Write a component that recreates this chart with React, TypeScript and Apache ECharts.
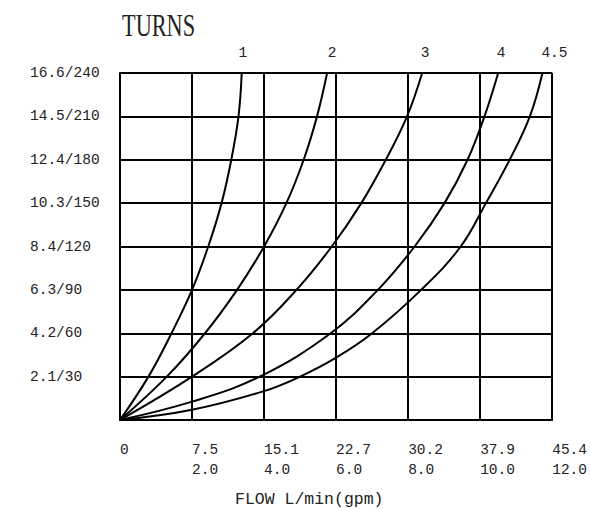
import React, { useEffect, useRef } from "react";
import * as echarts from "echarts";

// Tick labels
const lpmTicks = ["0", "7.5", "15.1", "22.7", "30.2", "37.9", "45.4"];
const gpmTicks = ["", "2.0", "4.0", "6.0", "8.0", "10.0", "12.0"];
const barTicks = ["", "2.1", "4.2", "6.3", "8.4", "10.3", "12.4", "14.5", "16.6"];
const psiTicks = ["", "30", "60", "90", "120", "150", "180", "210", "240"];

// Curves: [flow gpm, pressure psi]
const turnNames = ["1", "2", "3", "4", "4.5"];
const turns1 = [[0, 0], [0.79, 30], [1.43, 60], [2.0, 90], [2.45, 120], [2.82, 150], [3.09, 180], [3.29, 210], [3.38, 240]];
const turns2 = [[0, 0], [1.3, 30], [2.36, 60], [3.25, 90], [4.0, 120], [4.62, 150], [5.1, 180], [5.47, 210], [5.75, 240]];
const turns3 = [[0, 0], [2.0, 30], [3.69, 60], [4.9, 90], [5.88, 120], [6.7, 150], [7.38, 180], [7.97, 210], [8.39, 240]];
const turns4 = [[0, 0], [2.0, 12.7], [3.88, 30], [5.85, 60], [7.16, 90], [8.18, 120], [9.01, 150], [9.65, 180], [10.12, 210], [10.5, 240]];
const turns45 = [[0, 0], [2.0, 7.1], [4.0, 20], [5.0, 30], [6.0, 43.1], [7.0, 60], [8.36, 90], [9.46, 120], [10.16, 150], [10.82, 180], [11.38, 210], [11.73, 240]];
const curves = [turns1, turns2, turns3, turns4, turns45];
const labelOffsets = [1, 5, 3, 3, 12];

const MONO = "'Liberation Mono', 'DejaVu Sans Mono', monospace";

export default function App() {
  const ref = useRef<HTMLDivElement>(null);
  useEffect(() => {
    if (!ref.current) return;
    const chart = echarts.init(ref.current, undefined, { renderer: "svg" });
    const series = curves.map((pts, si) => ({
      type: "line",
      name: turnNames[si],
      smooth: 0.4,
      symbol: "circle",
      symbolSize: 1,
      itemStyle: { color: "rgba(0,0,0,0)" },
      lineStyle: { color: "#000", width: 2 },
      emphasis: { disabled: true },
      silent: true,
      data: pts.map((p, i) =>
        i === pts.length - 1
          ? {
              value: p,
              label: {
                show: true,
                position: "top",
                distance: 12,
                offset: [labelOffsets[si], 0],
                formatter: turnNames[si],
                color: "#222",
                fontFamily: MONO,
                fontSize: 14.5,
              },
            }
          : { value: p }
      ),
    }));
    chart.setOption({
      animation: false,
      backgroundColor: "#fff",
      grid: { left: 120, top: 73, width: 433, height: 347 },
      xAxis: {
        type: "value",
        min: 0,
        max: 12,
        interval: 2,
        axisLine: { show: true, lineStyle: { color: "#000", width: 2 } },
        axisTick: { show: false },
        splitLine: { show: true, lineStyle: { color: "#000", width: 2 } },
        axisLabel: {
          margin: 20,
          align: "left",
          verticalAlign: "top",
          lineHeight: 20,
          color: "#222",
          fontFamily: MONO,
          fontSize: 14.5,
          showMaxLabel: true,
          showMinLabel: true,
          formatter: (v: number) => {
            const i = Math.round(v / 2);
            return gpmTicks[i] ? `${lpmTicks[i]}\n${gpmTicks[i]}` : lpmTicks[i];
          },
        },
      },
      yAxis: {
        type: "value",
        min: 0,
        max: 240,
        interval: 30,
        axisLine: { show: true, lineStyle: { color: "#000", width: 2 } },
        axisTick: { show: false },
        splitLine: { show: true, lineStyle: { color: "#000", width: 2 } },
        axisLabel: {
          margin: 90,
          align: "left",
          verticalAlign: "middle",
          padding: [0, 0, 6, 0],
          color: "#222",
          fontFamily: MONO,
          fontSize: 14.5,
          formatter: (v: number) => {
            const i = Math.round(v / 30);
            return i === 0 ? "" : `${barTicks[i]}/${psiTicks[i]}`;
          },
        },
      },
      graphic: [
        {
          type: "text",
          x: 122,
          y: 26,
          scaleX: 0.72,
          style: {
            text: "TURNS",
            fill: "#222",
            font: "31px 'Liberation Serif', serif",
            textVerticalAlign: "middle",
          },
        },
        {
          type: "text",
          x: 235,
          y: 499,
          style: {
            text: "FLOW L/min(gpm)",
            fill: "#222",
            font: "16.5px 'Liberation Mono', monospace",
            textVerticalAlign: "middle",
          },
        },
      ],
      series,
    });
    return () => chart.dispose();
  }, []);
  return (
    <div
      ref={ref}
      style={{ position: "fixed", left: 0, top: 0, width: 590, height: 509, background: "#fff" }}
    />
  );
}
